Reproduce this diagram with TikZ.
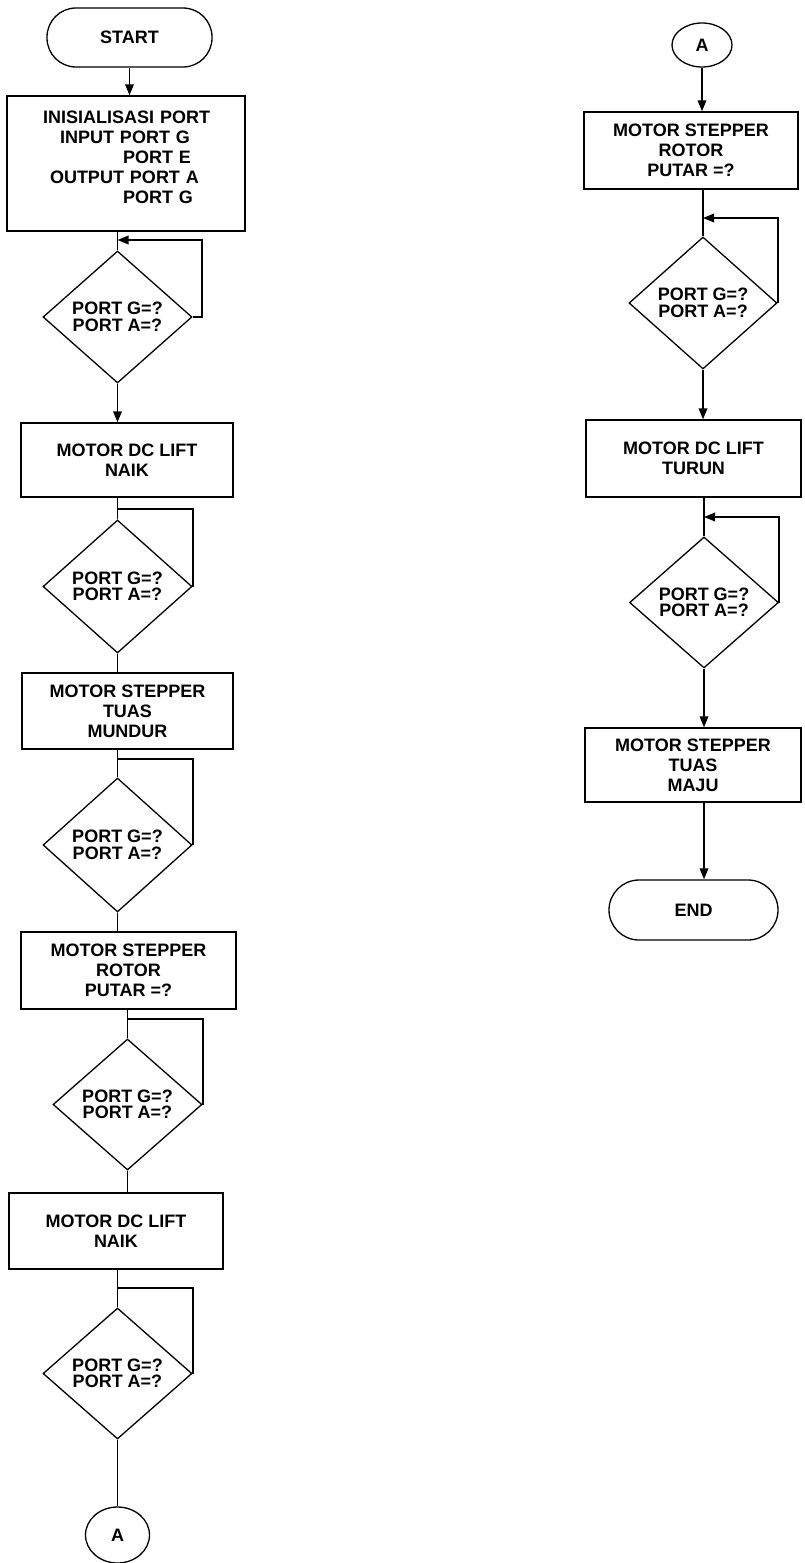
\documentclass[tikz,border=0pt]{standalone}
\usepackage{fontspec}
\setmainfont{Liberation Sans}
\usetikzlibrary{shapes.geometric,arrows.meta}
\begin{document}
\begin{tikzpicture}[x=1pt,y=-1pt,
  every node/.style={font=\fontsize{18}{20}\selectfont\bfseries},
  terminal/.style={draw, line width=1.3pt, rectangle, rounded corners=29pt, inner sep=0pt},
  procbox/.style={draw, line width=1.3pt, rectangle, align=center, inner sep=0pt},
  decision/.style={draw, diamond, line width=1.3pt, align=center, inner sep=0pt,
    minimum width=149pt, minimum height=132pt,
    font=\fontsize{18}{16.5}\selectfont\bfseries},
  connector/.style={draw, ellipse, line width=1.3pt, inner sep=0pt},
  flow/.style={line width=1.8pt},
  flowarrow/.style={flow, -{Triangle[length=11pt,width=8.5pt]}}]

\useasboundingbox (0,0) rectangle (805,1563);

% ---------------- left column ----------------
\node[terminal, minimum width=165pt, minimum height=59pt] (start) at (129.5,37.5) {START};

\node[procbox, minimum width=238pt, minimum height=135pt] (init) at (126,163.5) {};
\node[align=left, text width=204pt, inner sep=0pt] (initText) at (126,157)
  {\hspace*{19pt}INISIALISASI PORT\\
   \hspace*{36pt}INPUT PORT G\\
   \hspace*{99pt}PORT E\\
   \hspace*{26pt}OUTPUT PORT A\\
   \hspace*{99pt}PORT G};

\node[decision] (d1) at (117.5,317) {PORT G=?\\PORT A=?};
\node[procbox, minimum width=212pt, minimum height=74pt] (b2) at (127,460) {MOTOR DC LIFT\\NAIK};
\node[decision, minimum height=133pt] (d2) at (117.5,586.5) {PORT G=?\\PORT A=?};
\node[procbox, minimum width=211pt, minimum height=76pt] (b3) at (127.5,711) {MOTOR STEPPER\\TUAS\\MUNDUR};
\node[decision, minimum height=134pt] (d3) at (117.5,845) {PORT G=?\\PORT A=?};
\node[procbox, minimum width=215pt, minimum height=77pt] (b4) at (128.5,970.5) {MOTOR STEPPER\\ROTOR\\PUTAR =?};
\node[decision, minimum height=131pt] (d4) at (127.5,1104.5) {PORT G=?\\PORT A=?};
\node[procbox, minimum width=214pt, minimum height=76pt] (b5) at (116,1231) {MOTOR DC LIFT\\NAIK};
\node[decision, minimum height=131pt] (d5) at (117.5,1373.5) {PORT G=?\\PORT A=?};
\node[connector, minimum width=64pt, minimum height=56pt] (a1) at (117.5,1535) {A};

% junction points of the waiting loops
\coordinate (j1) at (117.5,240);
\coordinate (j2) at (117.5,509);
\coordinate (j3) at (117.5,759);
\coordinate (j4) at (127.5,1019);
\coordinate (j5) at (117.5,1288);

\draw[flowarrow] (start.south) -- (start.south |- init.north);
\draw[flow] (d1.north |- init.south) -- (d1.north);
\draw[flowarrow] (d1.east) -- ++(9,0) |- (j1);
\draw[flowarrow] (d1.south) -- (d1.south |- b2.north);

\draw[flow] (d2.north |- b2.south) -- (d2.north);
\draw[flow] (d2.east) |- (j2);
\draw[flow] (d2.south) -- (d2.south |- b3.north);

\draw[flow] (d3.north |- b3.south) -- (d3.north);
\draw[flow] (d3.east) |- (j3);
\draw[flow] (d3.south) -- (d3.south |- b4.north);

\draw[flow] (d4.north |- b4.south) -- (d4.north);
\draw[flow] (d4.east) |- (j4);
\draw[flow] (d4.south) -- (d4.south |- b5.north);

\draw[flow] (d5.north |- b5.south) -- (d5.north);
\draw[flow] (d5.east) |- (j5);
\draw[flow] (d5.south) -- (a1.north);

% ---------------- right column ----------------
\node[connector, minimum width=60pt, minimum height=44pt] (a2) at (702,45) {A};
\node[procbox, minimum width=214pt, minimum height=77pt] (r1) at (691,150.5) {MOTOR STEPPER\\ROTOR\\PUTAR =?};
\node[decision, minimum width=148pt] (d6) at (703,303) {PORT G=?\\PORT A=?};
\node[procbox, minimum width=215pt, minimum height=77pt] (r2) at (693.5,458.5) {MOTOR DC LIFT\\TURUN};
\node[decision, minimum height=131pt] (d7) at (704,602.5) {PORT G=?\\PORT A=?};
\node[procbox, minimum width=216pt, minimum height=74pt] (r3) at (693,765) {MOTOR STEPPER\\TUAS\\MAJU};
\node[terminal, minimum width=169pt, minimum height=60pt, rounded corners=30pt] (end) at (693.5,910) {END};

\coordinate (j6) at (703,218);
\coordinate (j7) at (704,517);

\draw[flowarrow] (a2.south) -- (a2.south |- r1.north);
\draw[flow] (d6.north |- r1.south) -- (d6.north);
\draw[flowarrow] (d6.east) |- (j6);
\draw[flowarrow] (d6.south) -- (d6.south |- r2.north);

\draw[flow] (d7.north |- r2.south) -- (d7.north);
\draw[flowarrow] (d7.east) |- (j7);
\draw[flowarrow] (d7.south) -- (d7.south |- r3.north);
\draw[flowarrow] (d7.south |- r3.south) -- (d7.south |- end.north);

\end{tikzpicture}
\end{document}
